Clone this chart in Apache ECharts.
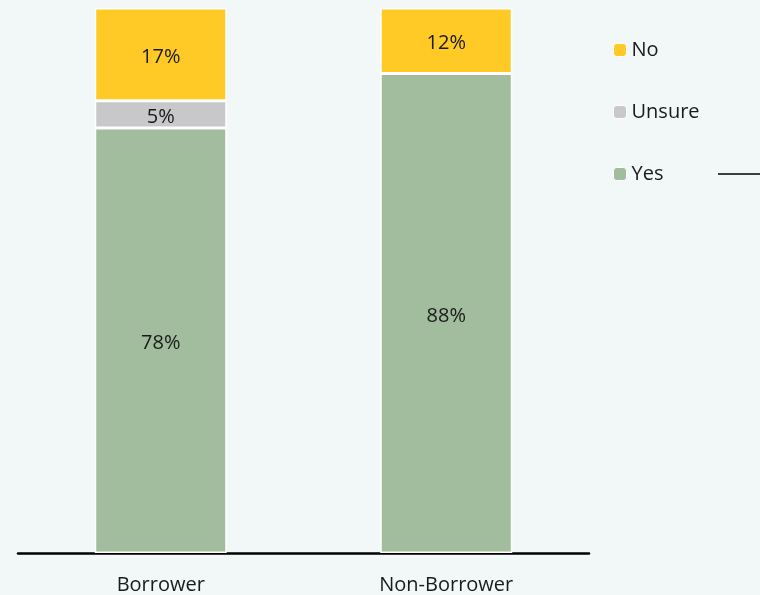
<!DOCTYPE html>
<html>
<head>
<meta charset="utf-8">
<script src="https://cdn.jsdelivr.net/npm/echarts@6/dist/echarts.min.js"></script>
<style>
  html, body { margin: 0; padding: 0; background: #F2F7F7; }
  #chart { width: 760px; height: 595px; }
</style>
</head>
<body>
<div id="chart"></div>
<script>
// Survey responses by group (percent of respondents)
const categories = ['Borrower', 'Non-Borrower'];
const yesValues = [78, 88];
const unsureValues = [5, 0];
const noValues = [17, 12];
const legendOrder = ['No', 'Unsure', 'Yes'];

const colors = { Yes: '#A2BC9E', Unsure: '#C8C8CA', No: '#FFC926' };
const fontFamily = '"Open Sans", Lato, sans-serif';

function makeSeries(name, values) {
  return {
    name: name,
    type: 'bar',
    stack: 'total',
    barWidth: 132,
    data: values,
    itemStyle: { color: colors[name], borderColor: '#FFFFFF', borderWidth: 1.5 },
    label: {
      show: true,
      position: 'inside',
      offset: [0, 3],
      color: '#1a1a1a',
      fontSize: 20,
      fontFamily: fontFamily,
      formatter: p => (p.value > 0 ? p.value + '%' : '')
    }
  };
}

const chart = echarts.init(document.getElementById('chart'), null, { renderer: 'canvas' });
chart.setOption({
  backgroundColor: '#F2F7F7',
  animation: false,
  grid: { left: 18, right: 171, top: 8, bottom: 42, containLabel: false },
  legend: {
    orient: 'vertical',
    left: 608,
    top: 35,
    itemWidth: 13,
    itemHeight: 13,
    itemGap: 42,
    data: legendOrder,
    textStyle: { fontSize: 20, lineHeight: 20, color: '#1a1a1a', fontFamily: fontFamily },
    itemStyle: { borderColor: '#FFFFFF', borderWidth: 1 }
  },
  xAxis: {
    type: 'category',
    data: categories,
    axisLine: { lineStyle: { color: '#000000', width: 2.5 } },
    axisTick: { show: false },
    axisLabel: { color: '#1a1a1a', fontSize: 20, margin: 22, fontFamily: fontFamily }
  },
  yAxis: {
    type: 'value',
    min: 0,
    max: 100,
    show: false,
    splitLine: { show: false }
  },
  graphic: [{
    type: 'line',
    shape: { x1: 718, y1: 174, x2: 760, y2: 174 },
    style: { stroke: '#000000', lineWidth: 1.5 }
  }],
  series: [
    makeSeries('Yes', yesValues),
    makeSeries('Unsure', unsureValues),
    makeSeries('No', noValues)
  ]
});
</script>
</body>
</html>
